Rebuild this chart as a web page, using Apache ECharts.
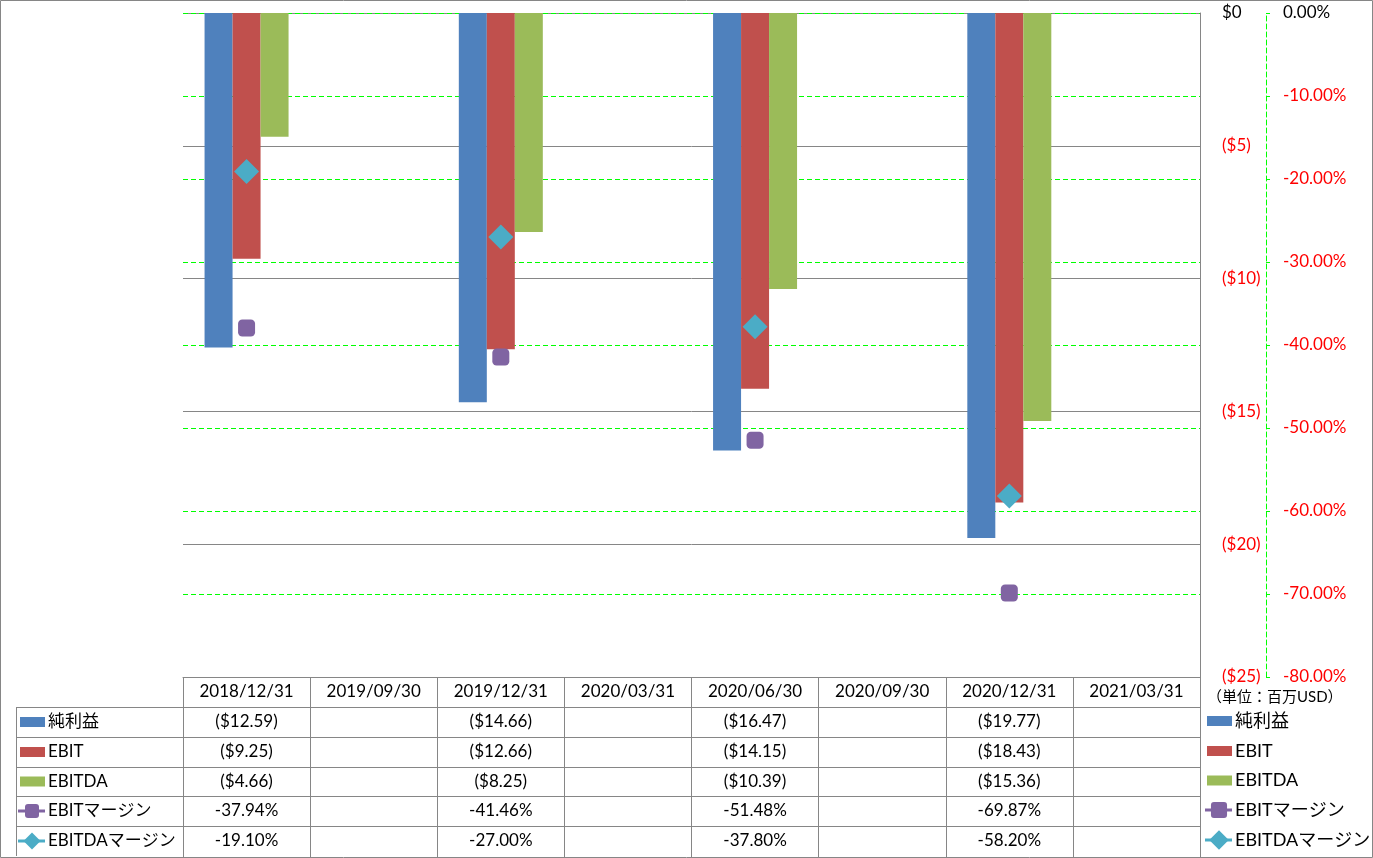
<!DOCTYPE html>
<html>
<head>
<meta charset="utf-8">
<script src="https://cdn.jsdelivr.net/npm/echarts@6/dist/echarts.min.js"></script>
<style>
html,body{margin:0;padding:0;background:#fff;}
#c{width:1373px;height:858px;}
</style>
</head>
<body>
<div id="c"></div>
<script>
const categories = ['2018/12/31','2019/09/30','2019/12/31','2020/03/31','2020/06/30','2020/09/30','2020/12/31','2021/03/31'];
const seriesNames = ['純利益','EBIT','EBITDA','EBITマージン','EBITDAマージン'];
const netIncome = [-12.59, null, -14.66, null, -16.47, null, -19.77, null];
const ebit = [-9.25, null, -12.66, null, -14.15, null, -18.43, null];
const ebitda = [-4.66, null, -8.25, null, -10.39, null, -15.36, null];
const ebitMargin = [-37.94, null, -41.46, null, -51.48, null, -69.87, null];
const ebitdaMargin = [-19.10, null, -27.00, null, -37.80, null, -58.20, null];
const dollarTicks = {min: -25, max: 0, interval: 5};
const pctTicks = {min: -80, max: 0, interval: 10};
const unitLabel = '（単位：百万USD）';

const colors = ['#4F81BD','#C0504D','#9BBB59','#8064A2','#4BACC6'];
const FONT = "Lato, 'Noto Sans CJK JP', sans-serif";
const GRAY = '#868686';
const GREEN = '#00FF00';
const RED = '#FF0000';

const chart = echarts.init(document.getElementById('c'), null, {renderer:'canvas'});

function fmtDollar(v){ return v === 0 ? '$0' : '($' + Math.abs(v).toFixed(0) + ')'; }
function fmtDollar2(v){ return v < 0 ? '($' + Math.abs(v).toFixed(2) + ')' : '$' + v.toFixed(2); }
function fmtPct(v){ return v.toFixed(2) + '%'; }

const option = {
  animation: false,
  textStyle: {fontFamily: FONT},
  color: colors,
  grid: {left: 183, right: 173, top: 13, bottom: 181},
  legend: {show: false, data: seriesNames},
  xAxis: {
    type: 'category', data: categories,
    axisLine: {show: true, onZero: false, lineStyle: {color: GRAY, width: 1}},
    axisTick: {show: true, inside: false, length: 180, lineStyle: {color: GRAY, width: 1}},
    axisLabel: {margin: 6, fontSize: 17, color: '#000', fontFamily: FONT, interval: 0},
    splitLine: {show: false},
    z: 10
  },
  yAxis: [
    {
      type: 'value', position: 'right', min: dollarTicks.min, max: dollarTicks.max, interval: dollarTicks.interval,
      axisLine: {show: true, lineStyle: {color: GRAY, width: 1}},
      axisTick: {show: false},
      splitLine: {show: true, lineStyle: {color: GRAY, width: 1, type: 'solid'}},
      axisLabel: {
        margin: 22, fontSize: 17, fontFamily: FONT,
        formatter: v => v === 0 ? '{k|' + fmtDollar(v) + '}' : '{r|' + fmtDollar(v) + '}',
        rich: {k: {color: '#000', fontSize: 17, fontFamily: FONT}, r: {color: RED, fontSize: 17, fontFamily: FONT}}
      }
    },
    {
      type: 'value', position: 'right', offset: 66, min: pctTicks.min, max: pctTicks.max, interval: pctTicks.interval,
      axisLine: {show: true, lineStyle: {color: GREEN, width: 1, type: [5,3]}},
      axisTick: {show: true, inside: false, length: 4, lineStyle: {color: GREEN, width: 1}},
      splitLine: {show: true, lineStyle: {color: GREEN, width: 1, type: [5,3]}},
      axisLabel: {
        margin: 17, fontSize: 17, fontFamily: FONT,
        formatter: v => v === 0 ? '{k|' + fmtPct(v) + '}' : '{r|' + fmtPct(v) + '}',
        rich: {k: {color: '#000', fontSize: 17, fontFamily: FONT}, r: {color: RED, fontSize: 17, fontFamily: FONT}}
      }
    }
  ],
  series: [
    {name: seriesNames[0], type: 'bar', data: netIncome, barWidth: 28, barGap: '0%', itemStyle: {color: colors[0]}},
    {name: seriesNames[1], type: 'bar', data: ebit, barWidth: 28, barGap: '0%', itemStyle: {color: colors[1]}},
    {name: seriesNames[2], type: 'bar', data: ebitda, barWidth: 28, barGap: '0%', itemStyle: {color: colors[2]}},
    {name: seriesNames[3], type: 'line', yAxisIndex: 1, data: ebitMargin, connectNulls: false,
      symbol: 'roundRect', symbolSize: 17, showAllSymbol: true,
      itemStyle: {color: colors[3]}, lineStyle: {color: colors[3], width: 3}, z: 5},
    {name: seriesNames[4], type: 'line', yAxisIndex: 1, data: ebitdaMargin, connectNulls: false,
      symbol: 'diamond', symbolSize: 25, showAllSymbol: true,
      itemStyle: {color: colors[4]}, lineStyle: {color: colors[4], width: 3}, z: 6}
  ]
};
chart.setOption(option);

// Build data table below the plot, and the legend to its right
const tableLeft = 16, plotRight = 1200;
const rowLines = [707, 737, 767, 796, 826];
const rowCenters = [722, 752, 781.5, 811, 841];
const bottomY = 856;
const rows = [
  {name: seriesNames[0], data: netIncome, fmt: fmtDollar2, kind: 'bar', color: colors[0]},
  {name: seriesNames[1], data: ebit, fmt: fmtDollar2, kind: 'bar', color: colors[1]},
  {name: seriesNames[2], data: ebitda, fmt: fmtDollar2, kind: 'bar', color: colors[2]},
  {name: seriesNames[3], data: ebitMargin, fmt: fmtPct, kind: 'square', color: colors[3]},
  {name: seriesNames[4], data: ebitdaMargin, fmt: fmtPct, kind: 'diamond', color: colors[4]}
];
const g = [];
g.push({type: 'rect', shape: {x: 0.5, y: 0.5, width: 1372, height: 857}, style: {fill: null, stroke: GRAY, lineWidth: 1}, silent: true});
rowLines.forEach(y => {
  g.push({type: 'line', shape: {x1: tableLeft, y1: y + 0.5, x2: plotRight, y2: y + 0.5}, style: {stroke: GRAY, lineWidth: 1}, silent: true});
});
g.push({type: 'line', shape: {x1: tableLeft + 0.5, y1: rowLines[0], x2: tableLeft + 0.5, y2: bottomY}, style: {stroke: GRAY, lineWidth: 1}, silent: true});

function legendKey(r, x0, cy, big) {
  const s = big ? 1.15 : 1;
  if (r.kind === 'bar') {
    g.push({type: 'rect', shape: {x: x0 + 2, y: cy - 5, width: 25, height: 10}, style: {fill: r.color}, silent: true});
  } else {
    g.push({type: 'line', shape: {x1: x0, y1: cy, x2: x0 + 27, y2: cy}, style: {stroke: r.color, lineWidth: 3}, silent: true});
    const mx = x0 + 14;
    if (r.kind === 'square') {
      const h = 14 * s;
      g.push({type: 'rect', shape: {x: mx - h / 2, y: cy - h / 2, width: h, height: h, r: 3}, style: {fill: r.color}, silent: true});
    } else {
      const d = 8.5 * s;
      g.push({type: 'polygon', shape: {points: [[mx, cy - d], [mx + d, cy], [mx, cy + d], [mx - d, cy]]}, style: {fill: r.color}, silent: true});
    }
  }
}

rows.forEach((r, ri) => {
  const cy = rowCenters[ri];
  legendKey(r, 18, cy, false);
  g.push({type: 'text', x: 48, y: cy, style: {text: r.name, fill: '#000', font: '17px ' + FONT, textVerticalAlign: 'middle', verticalAlign: 'middle', textAlign: 'left'}, silent: true});
  r.data.forEach((v, ci) => {
    if (v === null || v === undefined) return;
    const x = chart.convertToPixel({xAxisIndex: 0}, ci);
    g.push({type: 'text', x: x, y: cy, style: {text: r.fmt(v), fill: '#000', font: '17px ' + FONT, align: 'center', verticalAlign: 'middle', textAlign: 'center', textVerticalAlign: 'middle'}, silent: true});
  });
  legendKey(r, 1205, cy - 1, true);
  g.push({type: 'text', x: 1235, y: cy - 1, style: {text: r.name, fill: '#000', font: '18px ' + FONT, textVerticalAlign: 'middle', verticalAlign: 'middle', textAlign: 'left'}, silent: true});
});
g.push({type: 'text', x: 1207, y: 697, style: {text: unitLabel, fill: '#000', font: '15px ' + FONT, verticalAlign: 'middle', textVerticalAlign: 'middle', align: 'left'}, silent: true});
chart.setOption({graphic: g});
</script>
</body>
</html>
